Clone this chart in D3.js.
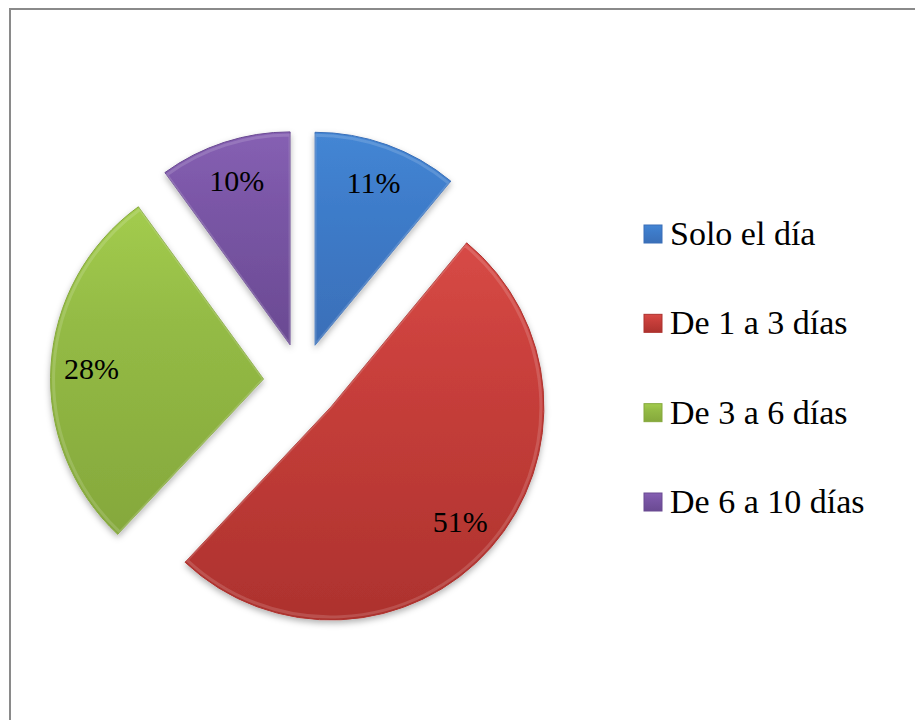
<!DOCTYPE html>
<html>
<head>
<meta charset="utf-8">
<script src="https://cdn.jsdelivr.net/npm/d3@7"></script>
<style>
  body { margin: 0; background: #fff; }
  svg { display: block; }
</style>
</head>
<body>
<div id="chart"></div>
<script>
// Data
const categories = ["Solo el día", "De 1 a 3 días", "De 3 a 6 días", "De 6 a 10 días"];
const values = [11, 51, 28, 10];
const labels = ["11%", "51%", "28%", "10%"];

// colours: top / middle / bottom of each slice
const colorsTop = ["#4486d4", "#d74a46", "#a3cc4e", "#8660b3"];
const colorsMid = ["#3e7cca", "#c83f3b", "#94bb45", "#7a56a6"];
const colorsBot = ["#3a6fb8", "#ad322e", "#85a83c", "#6a4a92"];

const width = 915, height = 720;
const cx = 302, cy = 381.5;
const radius = 213;
const explode = 38.5;
const serif = "Liberation Serif";

let svg = d3.select("#chart")
    .append("svg")
    .attr("width", width)
    .attr("height", height);

let defs = svg.append("defs");

// gradients for each slice
categories.forEach(function (c, i) {
    let g = defs.append("linearGradient")
        .attr("id", "grad" + i)
        .attr("x1", 0).attr("y1", 0)
        .attr("x2", 0).attr("y2", 1);
    g.append("stop").attr("offset", "0%").attr("stop-color", colorsTop[i]);
    g.append("stop").attr("offset", "35%").attr("stop-color", colorsMid[i]);
    g.append("stop").attr("offset", "100%").attr("stop-color", colorsBot[i]);
});

// soft shadow under slices
let shadow = defs.append("filter")
    .attr("id", "shadow")
    .attr("x", "-20%").attr("y", "-20%")
    .attr("width", "140%").attr("height", "140%");
shadow.append("feDropShadow")
    .attr("dx", 0).attr("dy", 3)
    .attr("stdDeviation", 3)
    .attr("flood-color", "#000")
    .attr("flood-opacity", 0.3);

// chart frame
svg.append("rect")
    .attr("x", 10).attr("y", 9)
    .attr("width", width + 20).attr("height", height + 20)
    .attr("fill", "none")
    .attr("stroke", "#8a8a8a")
    .attr("stroke-width", 2);

let pie = d3.pie().sort(null).value(function (d) { return d; });
let arcs = pie(values);

let arc = d3.arc().innerRadius(0).outerRadius(radius);
let labelArc = d3.arc().innerRadius(radius * 0.81).outerRadius(radius * 0.81);

let pieG = svg.append("g")
    .attr("transform", `translate(${cx}, ${cy})`);

let slice = pieG.selectAll("g.slice")
    .data(arcs)
    .enter()
    .append("g")
    .attr("class", "slice")
    .attr("transform", function (d) {
        const mid = (d.startAngle + d.endAngle) / 2;
        return `translate(${explode * Math.sin(mid)}, ${-explode * Math.cos(mid)})`;
    });

slice.append("path")
    .attr("d", arc)
    .attr("fill", function (d, i) { return "url(#grad" + i + ")"; })
    .attr("stroke", function (d, i) { return colorsBot[i]; })
    .attr("stroke-width", 1)
    .attr("stroke-linejoin", "round")
    .attr("filter", "url(#shadow)");

// light bevel along the edge
slice.append("path")
    .attr("d", d3.arc().innerRadius(0).outerRadius(radius - 3))
    .attr("fill", "none")
    .attr("stroke", "#ffffff")
    .attr("stroke-opacity", 0.15)
    .attr("stroke-width", 3);

slice.append("text")
    .attr("transform", function (d) {
        return `translate(${labelArc.centroid(d)})`;
    })
    .attr("text-anchor", "middle")
    .attr("dy", "0.35em")
    .attr("font-family", serif)
    .attr("font-size", 30)
    .attr("fill", "#000")
    .text(function (d, i) { return labels[i]; });

// legend
let legendY = d3.scaleLinear()
    .domain([0, categories.length - 1])
    .range([234, 502]);

let legend = svg.append("g")
    .selectAll("g")
    .data(categories)
    .enter()
    .append("g")
    .attr("transform", function (d, i) { return `translate(644, ${legendY(i)})`; });

legend.append("rect")
    .attr("x", 0).attr("y", -9)
    .attr("width", 18).attr("height", 18)
    .attr("fill", function (d, i) { return "url(#grad" + i + ")"; })
    .attr("stroke", function (d, i) { return colorsBot[i]; })
    .attr("stroke-width", 1);

legend.append("text")
    .attr("x", 26)
    .attr("y", 11)
    .attr("font-family", serif)
    .attr("font-size", 34)
    .attr("fill", "#000")
    .text(function (d) { return d; });
</script>
</body>
</html>
